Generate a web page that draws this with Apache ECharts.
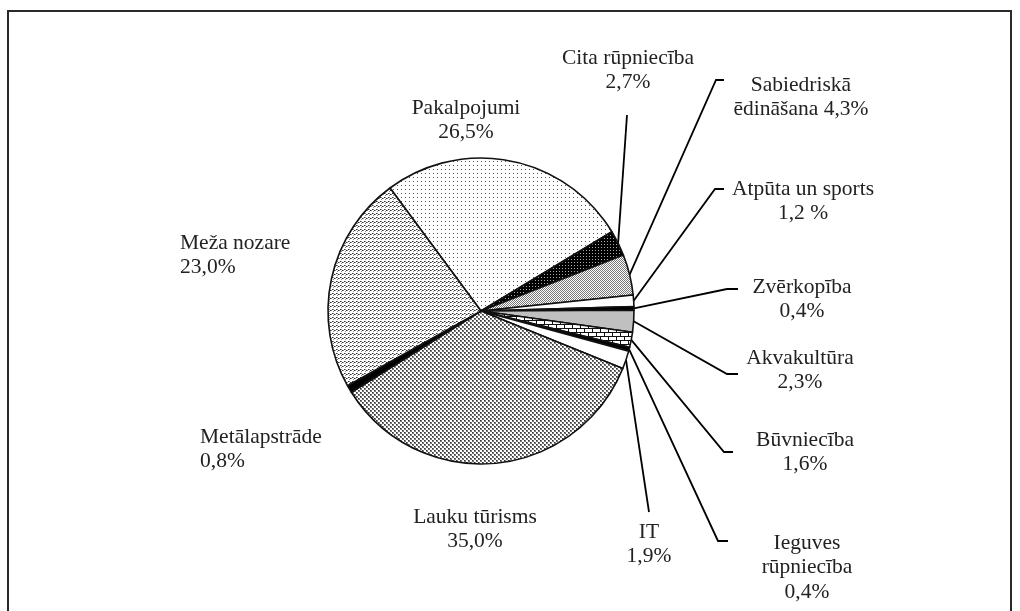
<!DOCTYPE html>
<html>
<head>
<meta charset="utf-8">
<script src="https://cdn.jsdelivr.net/npm/echarts@6/dist/echarts.min.js"></script>
<style>
html, body { margin: 0; padding: 0; background: #fff; }
#chart { width: 1020px; height: 611px; }
</style>
</head>
<body>
<div id="chart"></div>
<script>
// sectors, clockwise from Pakalpojumi
const names = ['Pakalpojumi', 'Cita rūpniecība', 'Sabiedriskā\nēdināšana', 'Atpūta un sports', 'Zvērkopība',
  'Akvakultūra', 'Būvniecība', 'Ieguves\nrūpniecība', 'IT', 'Lauku tūrisms', 'Metālapstrāde', 'Meža nozare'];
const shares = [26.5, 2.7, 4.3, 1.2, 0.4, 2.3, 1.6, 0.4, 1.9, 35.0, 0.8, 23.0];
const valueSep = ['\n', '\n', ' ', '\n', '\n', '\n', '\n', '\n', '\n', '\n', '\n', '\n'];
const pctSpace = ['', '', '', ' ', '', '', '', '', '', '', '', ''];

// label placement: [x, top, align]
const labelAnchor = [
  [466, 96, 'center'], [628, 46, 'center'], [801, 73, 'center'], [803, 177, 'center'],
  [802, 275, 'center'], [800, 346, 'center'], [805, 428, 'center'], [807, 531, 'center'],
  [649, 520, 'center'], [475, 505, 'center'], [200, 425, 'left'], [180, 231, 'left']
];
// leader line end points (after the start on the pie edge)
const leaderEnd = [
  null, [[627, 115], [627, 115]], [[716, 80], [724, 80]], [[715, 189], [724, 189]],
  [[727, 289], [738, 289]], [[727, 374], [738, 374]], [[724, 452], [733, 452]], [[718, 541], [728, 541]],
  [[649, 512], [649, 512]], null, null, null
];

const makeTile = (w, h, bg, draw) => {
  const c = document.createElement('canvas');
  c.width = w; c.height = h;
  const ctx = c.getContext('2d');
  ctx.fillStyle = bg;
  ctx.fillRect(0, 0, w, h);
  draw(ctx);
  return { image: c, repeat: 'repeat' };
};

const dots = makeTile(4, 4, '#fff', ctx => { ctx.fillStyle = '#555'; ctx.fillRect(1, 1, 1, 1); });
const darkDots = makeTile(3, 3, '#000', ctx => { ctx.fillStyle = '#aaa'; ctx.fillRect(1, 1, 1, 1); });
const fineCheck = makeTile(2, 2, '#fff', ctx => {
  ctx.fillStyle = '#777'; ctx.fillRect(0, 0, 1, 1); ctx.fillRect(1, 1, 1, 1);
});
const check = makeTile(4, 4, '#fff', ctx => {
  ctx.fillStyle = '#777'; ctx.fillRect(0, 0, 2, 2); ctx.fillRect(2, 2, 2, 2);
  ctx.fillStyle = '#333'; ctx.fillRect(0, 0, 1, 1); ctx.fillRect(2, 2, 1, 1);
});
const wave = makeTile(4, 4, '#fff', ctx => {
  ctx.fillStyle = '#333'; ctx.fillRect(0, 1, 1, 1); ctx.fillRect(2, 2, 1, 1);
  ctx.fillStyle = '#888'; ctx.fillRect(1, 1, 1, 1); ctx.fillRect(3, 2, 1, 1); ctx.fillRect(1, 3, 1, 1);
});
const brick = makeTile(8, 8, '#fff', ctx => {
  ctx.fillStyle = '#111';
  ctx.fillRect(0, 0, 8, 1); ctx.fillRect(0, 4, 8, 1);
  ctx.fillRect(0, 1, 1, 3); ctx.fillRect(4, 5, 1, 3);
});

const fills = [dots, darkDots, fineCheck, '#fff', '#000', '#c0c0c0', brick, '#000', '#fff', check, '#000', wave];

const chart = echarts.init(document.getElementById('chart'));

chart.setOption({
  animation: false,
  backgroundColor: '#fff',
  graphic: [{
    type: 'rect',
    shape: { x: 8, y: 11, width: 1003, height: 640 },
    style: { fill: 'none', stroke: '#2a2a2a', lineWidth: 2 }
  }],
  series: [{
    type: 'pie',
    center: [481, 311],
    radius: 153,
    startAngle: 126.5,
    clockwise: true,
    avoidLabelOverlap: false,
    itemStyle: { borderColor: '#111', borderWidth: 1.6 },
    label: {
      show: true,
      position: 'outside',
      fontFamily: "'Liberation Serif', 'Times New Roman', serif",
      fontSize: 21.5,
      lineHeight: 24.5,
      color: '#222',
      formatter: p => names[p.dataIndex] + valueSep[p.dataIndex] +
        shares[p.dataIndex].toFixed(1).replace('.', ',') + pctSpace[p.dataIndex] + '%'
    },
    labelLine: { show: true, length: 5, length2: 5, lineStyle: { color: '#000', width: 1.8 } },
    emphasis: { disabled: true },
    labelLayout: params => {
      const i = params.dataIndex;
      const a = labelAnchor[i];
      const out = { x: a[0], y: a[1], align: a[2], verticalAlign: 'top' };
      if (leaderEnd[i] && params.labelLinePoints) {
        out.labelLinePoints = [params.labelLinePoints[0]].concat(leaderEnd[i]);
      }
      return out;
    },
    data: shares.map((v, i) => ({
      name: names[i],
      value: v,
      itemStyle: { color: fills[i] },
      labelLine: { show: !!leaderEnd[i] }
    }))
  }]
});
</script>
</body>
</html>
